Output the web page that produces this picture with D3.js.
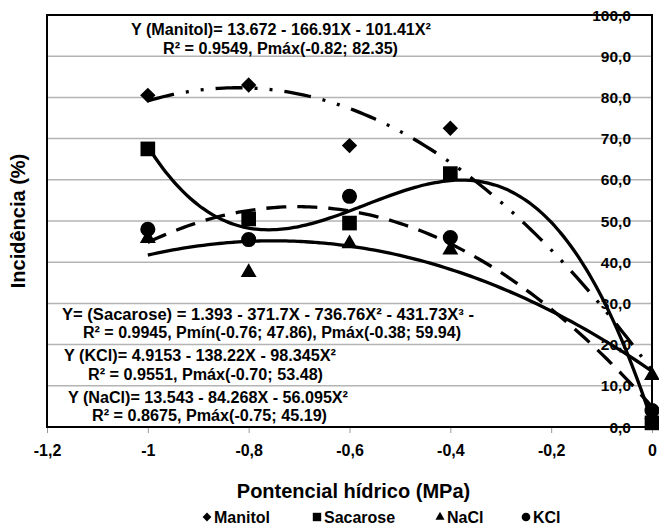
<!DOCTYPE html>
<html>
<head>
<meta charset="utf-8">
<script src="https://cdn.jsdelivr.net/npm/d3@7"></script>
<style>
  body { margin: 0; background: #fff; }
  svg { font-family: "Liberation Sans", Arial, sans-serif; font-weight: bold; }
</style>
</head>
<body>
<div id="chart"></div>
<script>
// water potential levels (MPa)
var potentials = [-1, -0.8, -0.6, -0.4, 0];

// incidence (%) per treatment
var manitol  = [80.5, 83.0, 68.3, 72.5, 2.0];
var sacarose = [67.5, 50.5, 49.5, 61.5, 1.0];
var nacl     = [45.8, 37.5, 44.5, 43.0, 12.5];
var kcl      = [48.0, 45.5, 56.0, 46.0, 4.0];

// regression coefficients shown on the chart (c0 + c1 X + c2 X^2 + c3 X^3)
var manitolFit  = [13.672, -166.91, -101.41];
var sacaroseFit = [1.393, -371.7, -736.76, -431.73];
var naclFit     = [13.543, -84.268, -56.095];
var kclFit      = [4.9153, -138.22, -98.345];

var xTicks = [-1.2, -1, -0.8, -0.6, -0.4, -0.2, 0];
var yTicks = [0, 10, 20, 30, 40, 50, 60, 70, 80, 90, 100];

var equations = [
  ["Y (Manitol)= 13.672 - 166.91X - 101.41X\u00b2", "R\u00b2 = 0.9549, Pm\u00e1x(-0.82; 82.35)"],
  ["Y= (Sacarose) = 1.393 - 371.7X - 736.76X\u00b2 - 431.73X\u00b3  -", "R\u00b2 = 0.9945, Pm\u00edn(-0.76; 47.86), Pm\u00e1x(-0.38; 59.94)"],
  ["Y (KCl)= 4.9153 - 138.22X - 98.345X\u00b2", "R\u00b2 = 0.9551, Pm\u00e1x(-0.70; 53.48)"],
  ["Y (NaCl)= 13.543 - 84.268X - 56.095X\u00b2", "R\u00b2 = 0.8675, Pm\u00e1x(-0.75; 45.19)"]
];

var W = 659, H = 525;
var margin = {top: 15, right: 7, bottom: 98, left: 47},
    width = W - margin.left - margin.right,
    height = H - margin.top - margin.bottom;

var svg = d3.select("#chart").append("svg")
    .attr("width", W)
    .attr("height", H);

var g = svg.append("g")
    .attr("transform", "translate(" + margin.left + "," + margin.top + ")");

var x = d3.scaleLinear().domain([-1.2, 0]).range([0, width]);
var y = d3.scaleLinear().domain([0, 100]).range([height, 0]);

// gridlines
g.append("g")
  .selectAll("line")
  .data(yTicks.filter(function(d) { return d > 0 && d < 100; }))
  .enter().append("line")
    .attr("x1", 0).attr("x2", width)
    .attr("y1", function(d) { return y(d); })
    .attr("y2", function(d) { return y(d); })
    .attr("stroke", "#b4b4b4")
    .attr("stroke-width", 1.5);

// x axis ticks + labels
var xAxis = g.append("g")
    .attr("transform", "translate(0," + height + ")")
    .call(d3.axisBottom(x).tickValues(xTicks).tickSize(6).tickPadding(12)
      .tickFormat(function(d) { return d3.format("")(d).replace(".", ",").replace("\u2212", "-"); }));
xAxis.select(".domain").remove();
xAxis.selectAll("line").attr("stroke", "#999").attr("stroke-width", 1);
xAxis.selectAll("text")
    .attr("font-size", 16)
    .attr("font-weight", "bold")
    .attr("font-family", "Liberation Sans, Arial, sans-serif")
    .attr("fill", "#000");

// y tick labels sit left of the axis at x = 0
g.append("g")
  .selectAll("text")
  .data(yTicks)
  .enter().append("text")
    .attr("x", x(0) - 21)
    .attr("y", function(d) { return y(d); })
    .attr("dy", "0.36em")
    .attr("text-anchor", "end")
    .attr("font-size", 15.5)
    .text(function(d) { return d3.format(".1f")(d).replace(".", ","); });

// plot frame
g.append("rect")
    .attr("width", width).attr("height", height)
    .attr("fill", "none")
    .attr("stroke", "#000")
    .attr("stroke-width", 2);

// trend curves
function poly(c) {
  return function(t) {
    var s = 0;
    for (var i = 0; i < c.length; i++) s += c[i] * Math.pow(t, i);
    return s;
  };
}
var xs = d3.range(-1, 0.0001, 0.01);
var line = d3.line()
    .x(function(d) { return x(d[0]); })
    .y(function(d) { return y(d[1]); })
    .curve(d3.curveBasis);

var trends = [
  {coef: manitolFit, dash: "27,12,3,12,3,12"},
  {coef: sacaroseFit, dash: null},
  {coef: naclFit, dash: null},
  {coef: kclFit, dash: "20,11"}
];
trends.forEach(function(t) {
  var f = poly(t.coef);
  g.append("path")
    .datum(xs.map(function(v) { return [v, f(v)]; }))
    .attr("d", line)
    .attr("fill", "none")
    .attr("stroke", "#000")
    .attr("stroke-width", 3.3)
    .attr("stroke-dasharray", t.dash);
});

// markers
var series = [
  {name: "Manitol",  values: manitol,  type: d3.symbolSquare,   size: 118, rot: 45},
  {name: "Sacarose", values: sacarose, type: d3.symbolSquare,   size: 215, rot: 0},
  {name: "NaCl",     values: nacl,     type: d3.symbolTriangle, size: 110, rot: 0},
  {name: "KCl",      values: kcl,      type: d3.symbolCircle,   size: 180, rot: 0}
];
series.forEach(function(s) {
  g.append("g")
    .selectAll("path")
    .data(s.values)
    .enter().append("path")
      .attr("d", d3.symbol().type(s.type).size(s.size))
      .attr("transform", function(d, i) {
        return "translate(" + x(potentials[i]) + "," + y(d) + ") rotate(" + s.rot + ")";
      })
      .attr("fill", "#000");
});

// regression equations: [left, centre y, width] in page pixels
var eqPos = [
  [[131, 29, 300], [163, 48, 235]],
  [[62, 314, 412], [83, 332, 378]],
  [[64, 355, 272], [88, 374, 235]],
  [[68, 397, 280], [92, 415, 235]]
];
equations.forEach(function(e, i) {
  e.forEach(function(txt, j) {
    var p = eqPos[i][j];
    svg.append("text")
      .attr("x", p[0])
      .attr("y", p[1] + 6)
      .attr("font-size", 16)
      .attr("textLength", p[2])
      .attr("lengthAdjust", "spacingAndGlyphs")
      .text(txt);
  });
});

// axis titles
svg.append("text")
    .attr("transform", "translate(25," + (margin.top + height / 2) + ") rotate(-90)")
    .attr("text-anchor", "middle")
    .attr("font-size", 20)
    .text("Incid\u00eancia (%)");

svg.append("text")
    .attr("x", margin.left + width / 2 + 4)
    .attr("y", 498)
    .attr("text-anchor", "middle")
    .attr("font-size", 20)
    .text("Pontencial h\u00eddrico (MPa)");

// legend
var legendX = [207, 317, 440, 526];
var legend = svg.append("g");
series.forEach(function(s, i) {
  var lg = legend.append("g").attr("transform", "translate(" + legendX[i] + ",517)");
  lg.append("path")
    .attr("d", d3.symbol().type(s.type).size(s.size * 0.33))
    .attr("transform", "rotate(" + s.rot + ")")
    .attr("fill", "#000");
  lg.append("text")
    .attr("x", 7)
    .attr("dy", "0.36em")
    .attr("font-size", 16)
    .text(s.name);
});
</script>
</body>
</html>
